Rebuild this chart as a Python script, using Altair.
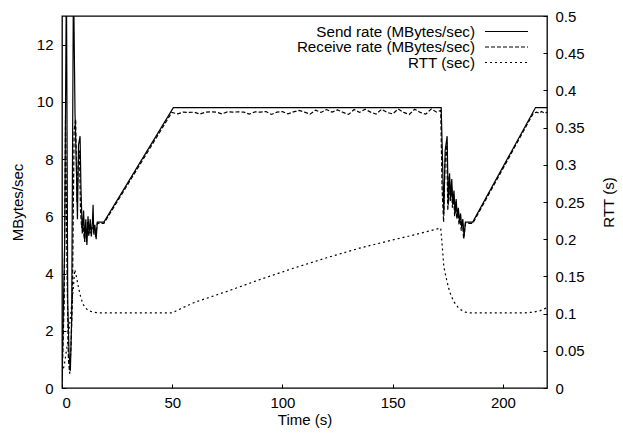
import altair as alt
import pandas as pd

# ---- data ----
send_t = [0, 1.2, 2.0, 2.6, 3.2, 3.8, 4.4, 5.2, 5.9, 6.5,
          7.0, 7.5, 8.2, 8.6, 9.2, 9.8, 10.3, 10.8, 11.3, 11.8,
          12.3, 12.8, 13.3, 13.8, 14.1, 14.4, 14.9, 15.5, 16.0, 19.0,
          50.5, 172.0, 172.6, 173.2, 173.8, 174.7, 175.2, 175.8, 176.3, 176.8,
          177.3, 177.8, 178.3, 178.8, 179.3, 179.8, 180.3, 180.8, 181.3, 181.8,
          182.4, 183.0, 186.3, 214.8, 220]
send_v = [0.3, 5.0, 14.5, 3.0, 1.2, 0.6, 2.5, 14.5, 9.6, 7.8,
          5.9, 8.5, 8.8, 7.0, 5.4, 6.2, 5.1, 5.9, 5.0, 6.0,
          5.4, 5.9, 5.3, 5.8, 6.4, 5.4, 5.7, 5.2, 5.8, 5.8,
          9.8, 9.8, 8.0, 6.1, 8.3, 8.8, 6.4, 7.5, 6.6, 7.3,
          6.4, 6.9, 6.1, 6.6, 6.0, 6.3, 5.8, 6.1, 5.6, 5.9,
          5.3, 5.8, 5.8, 9.8, 9.8]

recv_t = [0, 1.0, 1.6, 2.3, 2.9, 3.5, 4.1, 4.7, 5.5, 6.2,
          6.8, 7.3, 7.9, 8.4, 8.9, 9.5, 10.1, 10.6, 11.1, 11.6,
          12.1, 12.6, 13.1, 13.6, 14.2, 14.7, 15.3, 16.0, 19.0, 49.8,
          52.5, 55, 57.5, 60, 62.5, 65, 67.5, 70, 72.5, 75,
          77.5, 80, 82.5, 85, 87.5, 90, 92.5, 95, 97.5, 100,
          102.5, 105, 107.5, 110, 112.5, 115, 117.5, 120, 122.5, 125,
          127.5, 130, 132.5, 135, 137.5, 140, 142.5, 145, 147.5, 150,
          152.5, 155, 157.5, 160, 162.5, 165, 167.5, 170,
          171.8, 172.4, 173.1, 173.7, 174.5, 175.0, 175.6, 176.1, 176.6, 177.1,
          177.6, 178.1, 178.6, 179.1, 179.6, 180.1, 180.6, 181.1, 181.6, 182.2,
          183.0, 186.3, 213.8, 215.2, 216.5, 217.5, 219.0, 220]
recv_v = [0.2, 3.0, 9.5, 4.0, 1.0, 0.5, 1.5, 3.0, 9.0, 9.4,
          6.5, 7.8, 8.3, 6.2, 5.6, 5.8, 5.2, 5.7, 5.1, 5.8,
          5.3, 5.7, 5.4, 5.6, 5.6, 5.3, 5.3, 5.75, 5.75, 9.63,
          9.58, 9.64, 9.63, 9.64, 9.57, 9.64, 9.65, 9.64, 9.58, 9.65,
          9.64, 9.65, 9.64, 9.57, 9.65, 9.64, 9.66, 9.56, 9.64, 9.66,
          9.58, 9.65, 9.70, 9.64, 9.57, 9.71, 9.63, 9.73, 9.64, 9.72,
          9.63, 9.56, 9.73, 9.63, 9.74, 9.64, 9.57, 9.74, 9.63, 9.58,
          9.75, 9.63, 9.56, 9.74, 9.63, 9.57, 9.75, 9.64,
          9.70, 7.0, 5.8, 7.8, 8.6, 6.2, 7.4, 6.5, 7.2, 6.3,
          6.8, 6.0, 6.5, 5.9, 6.2, 5.7, 6.0, 5.5, 5.8, 5.2,
          5.75, 5.75, 9.6, 9.64, 9.60, 9.66, 9.60, 9.64]

rtt_t = [0, 1.0, 2.5, 4.0, 5.0, 5.8, 6.5, 7.5, 8.5, 9.5,
         10.5, 12.0, 14.0, 17.0, 50.0, 52.0, 60.0, 75.0, 90.0, 105.0,
         120.0, 135.0, 150.0, 160.0, 171.8, 172.5, 173.2, 174.5, 175.5, 176.5,
         178.0, 179.5, 181.0, 183.0, 185.0, 210.0, 214.0, 217.0, 220.0]
rtt_v = [0.02, 0.03, 0.06, 0.10, 0.13, 0.159, 0.15, 0.135, 0.122, 0.113,
         0.108, 0.104, 0.102, 0.101, 0.101, 0.104, 0.115, 0.130, 0.146, 0.161,
         0.175, 0.188, 0.199, 0.206, 0.215, 0.19, 0.163, 0.145, 0.133, 0.124,
         0.115, 0.109, 0.105, 0.102, 0.101, 0.101, 0.102, 0.104, 0.108]

legend_labels = ["Send rate (MBytes/sec)", "Receive rate (MBytes/sec)", "RTT (sec)"]
x_ticks = [0, 50, 100, 150, 200]
mb_ticks = [0, 2, 4, 6, 8, 10, 12]
rtt_ticks = [0, 0.05, 0.1, 0.15, 0.2, 0.25, 0.3, 0.35, 0.4, 0.45, 0.5]

send_df = pd.DataFrame({"t": send_t, "v": send_v})
recv_df = pd.DataFrame({"t": recv_t, "v": recv_v})
rtt_df = pd.DataFrame({"t": rtt_t, "v": rtt_v})

FONT = "Liberation Sans"
FS = 15
LFS = 15.2
W, H = 485, 372

x_enc = alt.X("t:Q", scale=alt.Scale(domain=[0, 220], nice=False),
              axis=alt.Axis(values=x_ticks, title="Time (s)", titleY=35,
                            titleBaseline="middle", labelPadding=7))

mb_scale = alt.Scale(domain=[0, 13], nice=False, zero=False)
mb_axis = alt.Axis(orient="left", values=mb_ticks, title="MBytes/sec",
                   titleX=-49, titleY=H / 2, titleBaseline="middle",
                   titleAngle=270, labelPadding=9)

send_line = alt.Chart(send_df).mark_line(color="black", strokeWidth=1.2, clip=True).encode(
    x=x_enc,
    y=alt.Y("v:Q", scale=mb_scale, axis=mb_axis),
)
recv_line = alt.Chart(recv_df).mark_line(color="black", strokeWidth=1.2, strokeDash=[4, 2],
                                         clip=True).encode(
    x=x_enc,
    y=alt.Y("v:Q", scale=mb_scale, axis=mb_axis),
)
mb_layer = alt.layer(send_line, recv_line)

rtt_line = alt.Chart(rtt_df).mark_line(color="black", strokeWidth=1.2, strokeDash=[2, 3],
                                       clip=True).encode(
    x=x_enc,
    y=alt.Y("v:Q", scale=alt.Scale(domain=[0, 0.5], nice=False),
            axis=alt.Axis(orient="right", values=rtt_ticks, format="~g",
                          title="RTT (s)", titleX=65, titleY=H / 2,
                          titleBaseline="middle", titleAngle=270, labelPadding=8)),
)

dashes = [[1, 0], [4, 2], [2, 3]]
legend_layers = []
for i, lab in enumerate(legend_labels):
    ldf = pd.DataFrame({"label": [lab]})
    yy = 15.5 + 15.5 * i
    legend_layers.append(
        alt.Chart(ldf).mark_text(align="right", baseline="middle", font=FONT,
                                 fontSize=LFS, color="black").encode(
            x=alt.value(413), y=alt.value(yy), text="label:N"))
    legend_layers.append(
        alt.Chart(ldf).mark_rule(color="black", strokeWidth=1.2,
                                 strokeDash=dashes[i]).encode(
            x=alt.value(423), x2=alt.value(466), y=alt.value(yy)))

chart = alt.layer(mb_layer, rtt_line, *legend_layers).resolve_scale(
    y="independent"
).properties(
    width=W, height=H,
    background="white",
    autosize=alt.AutoSizeParams(type="none"),
    padding={"left": 62, "top": 16, "right": 623 - 62 - W, "bottom": 434 - 16 - H},
).configure_view(
    stroke="black", strokeWidth=1.3
).configure_axis(
    domain=False, grid=False, ticks=True, tickSize=4, offset=-4,
    tickColor="black", tickWidth=1,
    labelFont=FONT, labelFontSize=FS, labelColor="black",
    titleFont=FONT, titleFontSize=FS, titleColor="black", titleFontWeight="normal",
)

chart.save("out.html", embed_options={"renderer": "svg", "actions": False})
